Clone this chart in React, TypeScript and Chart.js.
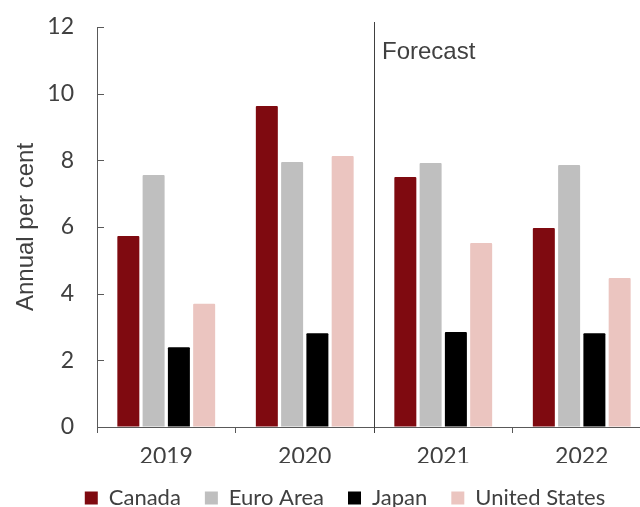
import React, { useEffect, useRef } from "react";
import { Chart, registerables } from "chart.js";

Chart.register(...registerables);

const categories = ["2019", "2020", "2021", "2022"];
const canada = [5.73, 9.63, 7.5, 5.97];
const euroArea = [7.56, 7.95, 7.92, 7.86];
const japan = [2.39, 2.81, 2.85, 2.81];
const unitedStates = [3.7, 8.13, 5.52, 4.47];
const yTicks = [0, 2, 4, 6, 8, 10, 12];
const forecastStartIndex = 2;
const forecastLabel = "Forecast";

const TEXT = "#404040";
const AXIS = "#595959";

const decorations = {
  id: "decorations",
  afterDatasetsDraw(chart: any) {
    const { ctx, chartArea, scales } = chart;
    const x = scales.x;
    const y = scales.y;
    ctx.save();
    ctx.strokeStyle = AXIS;
    ctx.lineWidth = 1;
    y.ticks.forEach((t: any) => {
      const py = Math.round(y.getPixelForValue(t.value)) + 0.5;
      ctx.beginPath();
      ctx.moveTo(chartArea.left, py);
      ctx.lineTo(chartArea.left + 7, py);
      ctx.stroke();
    });
    const fx =
      Math.round(
        (x.getPixelForValue(forecastStartIndex - 1) + x.getPixelForValue(forecastStartIndex)) / 2
      ) + 0.5;
    ctx.strokeStyle = TEXT;
    ctx.beginPath();
    ctx.moveTo(fx, chartArea.top - 5);
    ctx.lineTo(fx, chartArea.bottom + 6);
    ctx.stroke();
    ctx.fillStyle = TEXT;
    ctx.font = "24px 'Liberation Sans', Arial, sans-serif";
    ctx.textBaseline = "middle";
    ctx.textAlign = "left";
    ctx.fillText(forecastLabel, fx + 7.5, chartArea.top + 25);
    ctx.restore();
  },
};

export default function App() {
  const ref = useRef<HTMLCanvasElement>(null);
  useEffect(() => {
    if (!ref.current) return;
    Chart.defaults.font.family = "Lato, 'Open Sans', sans-serif";
    Chart.defaults.color = TEXT;
    const chart = new Chart(ref.current, {
      type: "bar",
      data: {
        labels: categories,
        datasets: [
          { label: "Canada", data: canada, backgroundColor: "#7f0a10" },
          { label: "Euro Area", data: euroArea, backgroundColor: "#bfbfbf" },
          { label: "Japan", data: japan, backgroundColor: "#000000" },
          { label: "United States", data: unitedStates, backgroundColor: "#ebc5c0" },
        ].map((d) => ({
          ...d,
          categoryPercentage: 0.73,
          barPercentage: 0.87,
          borderRadius: 1,
        })),
      },
      options: {
        responsive: false,
        animation: false,
        devicePixelRatio: 1,
        layout: { padding: { top: 27, left: 0, right: 0, bottom: 0 } },
        plugins: {
          tooltip: { enabled: false },
          legend: {
            position: "bottom",
            align: "center",
            labels: {
              boxWidth: 13,
              boxHeight: 13,
              padding: 24,
              color: TEXT,
              font: { size: 22 },
            },
          },
        },
        scales: {
          x: {
            grid: {
              display: true,
              drawOnChartArea: false,
              drawTicks: true,
              tickLength: 6,
              offset: true,
              color: AXIS,
            },
            border: { display: true, color: AXIS, width: 1 },
            ticks: { font: { size: 23 }, color: TEXT, padding: 10 },
            afterFit: (s: any) => {
              s.height = 36;
            },
          },
          y: {
            min: 0,
            max: 12,
            afterBuildTicks: (s: any) => {
              s.ticks = yTicks.map((v) => ({ value: v }));
            },
            grid: {
              display: true,
              drawOnChartArea: false,
              drawTicks: true,
              tickLength: 23,
              tickColor: "rgba(0,0,0,0)",
            },
            border: { display: true, color: AXIS, width: 1 },
            ticks: { font: { size: 23 }, color: TEXT, padding: 0 },
            title: {
              display: true,
              text: "Annual per cent",
              color: TEXT,
              font: { size: 24, family: "'Liberation Sans', Arial, sans-serif" },
              padding: { top: 12, bottom: 0 },
            },
            afterFit: (s: any) => {
              s.width = 97;
            },
          },
          y2: {
            position: "right",
            display: true,
            grid: { display: false },
            border: { display: false },
            ticks: { display: false },
            afterFit: (s: any) => {
              s.width = 39;
            },
          },
        },
      },
      plugins: [decorations],
    } as any);
    return () => chart.destroy();
  }, []);
  return (
    <div
      style={{
        position: "absolute",
        left: 0,
        top: 0,
        width: 640,
        height: 507,
        overflow: "hidden",
        background: "#fff",
      }}
    >
      <canvas ref={ref} width={690} height={519} style={{ width: 690, height: 519, display: "block" }} />
    </div>
  );
}
